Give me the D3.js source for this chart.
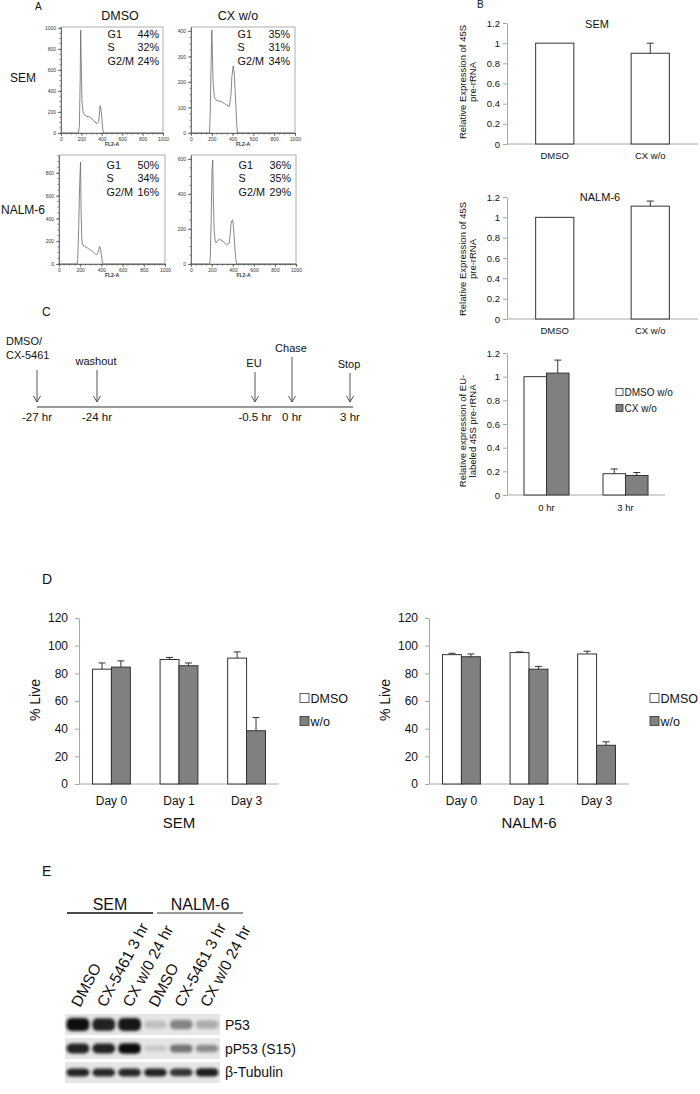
<!DOCTYPE html>
<html>
<head>
<meta charset="utf-8">
<script src="https://cdn.jsdelivr.net/npm/d3@7"></script>
<style>
  body { margin: 0; background: #fff; }
  svg { display: block; font-family: Arial, "Liberation Sans", sans-serif; }
</style>
</head>
<body>
<svg width="700" height="1094"></svg>
<script>
const svg = d3.select('svg');
const FONT = 'Arial, "Liberation Sans", sans-serif';

// ---------- panel A: cell cycle histograms (FL2-A channel, count)
const semDmsoHist = [[0, 0], [170, 0], [180, 60], [188, 500], [193, 980], [198, 700], [205, 320], [217, 190],
  [250, 159], [283, 152], [317, 120], [350, 89], [370, 111], [378, 200], [383, 260], [393, 222], [400, 150],
  [407, 48], [417, 0], [1000, 0]];
const semCxHist = [[0, 0], [178, 0], [185, 80], [192, 250], [200, 404], [205, 330], [212, 200], [225, 140],
  [240, 130], [265, 125], [290, 124], [323, 115], [355, 107], [368, 104], [383, 143], [393, 221], [406, 263],
  [416, 234], [425, 160], [432, 104], [440, 30], [448, 0], [1000, 0]];
const nalmDmsoHist = [[0, 0], [170, 0], [177, 40], [185, 300], [195, 700], [203, 895], [208, 500], [214, 250],
  [220, 169], [269, 140], [318, 110], [351, 81], [367, 96], [377, 130], [384, 154], [392, 130], [400, 81],
  [410, 9], [415, 0], [1000, 0]];
const nalmCxHist = [[0, 0], [178, 0], [184, 40], [192, 250], [200, 540], [207, 594], [212, 400], [220, 200],
  [230, 130], [239, 120], [255, 135], [272, 142], [305, 129], [338, 110], [364, 120], [375, 180], [380, 224],
  [390, 250], [397, 252], [405, 210], [413, 138], [422, 60], [429, 15], [435, 0], [1000, 0]];

const phaseNames = ['G1', 'S', 'G2/M'];
const semDmsoPhases = [44, 32, 24];
const semCxPhases = [35, 31, 34];
const nalmDmsoPhases = [50, 34, 16];
const nalmCxPhases = [36, 35, 29];

// ---------- panel B: 45S pre-rRNA
const rrnaConditions = ['DMSO', 'CX w/o'];
const semRrna = [1.0, 0.90];
const semRrnaErr = [0, 0.10];
const nalmRrna = [1.0, 1.11];
const nalmRrnaErr = [0, 0.05];
const rrnaTicks = [0, 0.2, 0.4, 0.6, 0.8, 1, 1.2];

const euTimepoints = ['0 hr', '3 hr'];
const euSeriesNames = ['DMSO w/o', 'CX w/o'];
const euDmso = [1.0, 0.18];
const euDmsoErr = [0, 0.04];
const euCx = [1.03, 0.165];
const euCxErr = [0.11, 0.025];

// ---------- panel C: timeline
const timelineEvents = [['DMSO/', 'CX-5461'], ['washout'], ['EU'], ['Chase'], ['Stop']];
const timelineHours = [-27, -24, -0.5, 0, 3];
const timelineLabels = ['-27 hr', '-24 hr', '-0.5 hr', '0 hr', '3 hr'];

// ---------- panel D: % live
const days = ['Day 0', 'Day 1', 'Day 3'];
const liveSeriesNames = ['DMSO', 'w/o'];
const semLiveDmso = [83, 90, 91];
const semLiveDmsoErr = [4.5, 1.5, 4.5];
const semLiveWo = [84.5, 85.5, 38.5];
const semLiveWoErr = [4.5, 2, 9.5];
const nalmLiveDmso = [93.5, 95, 94];
const nalmLiveDmsoErr = [1, 0.5, 2];
const nalmLiveWo = [92, 83, 28];
const nalmLiveWoErr = [2, 2, 2.5];
const liveTicks = [0, 20, 40, 60, 80, 100, 120];

// ---------- panel E: western blot
const blotLanes = ['DMSO', 'CX-5461 3 hr', 'CX w/0 24 hr', 'DMSO', 'CX-5461 3 hr', 'CX w/0 24 hr'];
const blotCellLines = ['SEM', 'NALM-6'];
const blotRows = ['P53', 'pP53 (S15)', 'β-Tubulin'];
const p53Signal = [1.0, 0.92, 0.97, 0.12, 0.42, 0.22];
const pp53Signal = [0.9, 0.92, 1.0, 0.08, 0.5, 0.38];
const tubulinSignal = [0.92, 0.88, 0.88, 0.9, 0.82, 0.95];

const GREY_BAR = '#808080';

// small text helper
function add_text(x, y, str, size, anchor = 'start', fill = '#111') {
  return svg.append('text')
    .attr('x', x).attr('y', y)
    .attr('font-size', size)
    .attr('text-anchor', anchor)
    .attr('fill', fill)
    .text(str);
}

// style a d3 axis group
function style_axis(a, size, lineColor, textColor) {
  a.attr('font-family', FONT).attr('font-size', size);
  a.selectAll('line, path').attr('stroke', lineColor);
  a.selectAll('text').attr('fill', textColor);
}

// ---------- panel letters
add_text(35, 10, 'A', 10);
add_text(477, 8, 'B', 10);
add_text(42, 316, 'C', 12);
add_text(42, 584, 'D', 14);
add_text(42, 876, 'E', 14);

// ---------- panel A
add_text(120, 20, 'DMSO', 12.5, 'middle');
add_text(238, 20, 'CX w/o', 12.5, 'middle');
add_text(10, 82, 'SEM', 12);
add_text(1, 214, 'NALM-6', 12);

function draw_histogram(h) {
  const x = d3.scaleLinear().domain([0, 1000]).range([h.left, h.right]);
  const y = d3.scaleLinear().domain([0, h.yLimit]).range([h.bottom, h.top]);
  const g = svg.append('g');

  // frame
  g.append('rect')
    .attr('x', h.left).attr('y', h.top)
    .attr('width', h.right - h.left).attr('height', h.bottom - h.top)
    .attr('fill', 'none').attr('stroke', '#9a9a9a').attr('stroke-width', 0.8);

  // minor ticks
  g.selectAll('.xminor').data(d3.range(0, 1001, 50)).join('line')
    .attr('x1', d => x(d)).attr('x2', d => x(d))
    .attr('y1', h.bottom).attr('y2', h.bottom + 1.6)
    .attr('stroke', '#444').attr('stroke-width', 0.6);
  g.selectAll('.yminor').data(d3.range(0, h.yLimit, h.yStep / 4)).join('line')
    .attr('x1', h.left).attr('x2', h.left - 1.6)
    .attr('y1', d => y(d)).attr('y2', d => y(d))
    .attr('stroke', '#444').attr('stroke-width', 0.6);

  const xAxis = g.append('g')
    .attr('transform', `translate(0,${h.bottom})`)
    .call(d3.axisBottom(x).tickValues(d3.range(0, 1001, 200)).tickSize(3).tickSizeOuter(0)
      .tickPadding(1).tickFormat(d3.format('d')));
  const yAxis = g.append('g')
    .attr('transform', `translate(${h.left},0)`)
    .call(d3.axisLeft(y).tickValues(d3.range(0, h.yLimit, h.yStep)).tickSize(3).tickSizeOuter(0)
      .tickPadding(2).tickFormat(d3.format('d')));
  style_axis(xAxis, 5, '#444', '#333');
  style_axis(yAxis, 5, '#444', '#333');
  xAxis.selectAll('line, path').attr('stroke-width', 0.7);
  yAxis.selectAll('line, path').attr('stroke-width', 0.7);

  add_text((h.left + h.right) / 2, h.bottom + 13, 'FL2-A', 5, 'middle', '#333')
    .attr('font-weight', 'bold');

  // histogram trace
  g.append('path')
    .datum(h.data)
    .attr('d', d3.line().x(d => x(d[0])).y(d => y(d[1])))
    .attr('fill', 'none')
    .attr('stroke', '#6a6a6a')
    .attr('stroke-width', 0.8);

  // phase percentages
  phaseNames.forEach((p, i) => {
    add_text(h.textLeft, h.textTop + i * 13.3, p, 10.8);
    add_text(h.textRight, h.textTop + i * 13.3, h.phases[i] + '%', 10.8, 'end');
  });
}

draw_histogram({ data: semDmsoHist, phases: semDmsoPhases, left: 61, right: 163, top: 27, bottom: 133,
  yLimit: 1010, yStep: 200, textLeft: 107.5, textRight: 159, textTop: 38 });
draw_histogram({ data: semCxHist, phases: semCxPhases, left: 191, right: 295, top: 27, bottom: 133,
  yLimit: 416, yStep: 100, textLeft: 237.5, textRight: 290, textTop: 38 });
draw_histogram({ data: nalmDmsoHist, phases: nalmDmsoPhases, left: 59, right: 165, top: 155, bottom: 264,
  yLimit: 958, yStep: 200, textLeft: 106.5, textRight: 159, textTop: 169 });
draw_histogram({ data: nalmCxHist, phases: nalmCxPhases, left: 191, right: 296, top: 155, bottom: 264,
  yLimit: 623, yStep: 200, textLeft: 238.5, textRight: 291, textTop: 169 });

// ---------- generic excel-like bar chart (panels B and D)
function draw_bar_chart(c) {
  const x = d3.scaleBand().domain(c.categories).range([c.left, c.right])
    .paddingInner(c.padInner).paddingOuter(c.padOuter);
  const xs = d3.scaleBand().domain(c.series.map(s => s.name)).range([0, x.bandwidth()]);
  const y = d3.scaleLinear().domain([0, c.yMax]).range([c.bottom, c.top]);
  const g = svg.append('g');

  const yAxis = g.append('g')
    .attr('transform', `translate(${c.left},0)`)
    .call(d3.axisLeft(y).tickValues(c.ticks).tickSize(c.tickSize).tickSizeOuter(0)
      .tickPadding(c.tickPad).tickFormat(d3.format('~g')));
  style_axis(yAxis, c.tickFont, '#a8a8a8', '#111');

  // x axis baseline
  g.append('line')
    .attr('x1', c.left).attr('x2', c.right)
    .attr('y1', c.bottom).attr('y2', c.bottom)
    .attr('stroke', '#a8a8a8');

  c.series.forEach(s => {
    const sg = g.append('g');
    sg.selectAll('rect')
      .data(c.categories)
      .join('rect')
      .attr('x', (d, i) => x(d) + xs(s.name))
      .attr('y', (d, i) => y(s.values[i]))
      .attr('width', xs.bandwidth())
      .attr('height', (d, i) => c.bottom - y(s.values[i]))
      .attr('fill', s.fill)
      .attr('stroke', '#333')
      .attr('stroke-width', 1);

    // positive error bars
    const errs = c.categories.map((d, i) => ({ cat: d, v: s.values[i], e: s.errors[i] })).filter(d => d.e > 0);
    const cx = d => x(d.cat) + xs(s.name) + xs.bandwidth() / 2;
    sg.selectAll('.err')
      .data(errs)
      .join('line')
      .attr('x1', cx).attr('x2', cx)
      .attr('y1', d => y(d.v)).attr('y2', d => y(d.v + d.e))
      .attr('stroke', '#333');
    sg.selectAll('.cap')
      .data(errs)
      .join('line')
      .attr('x1', d => cx(d) - c.cap).attr('x2', d => cx(d) + c.cap)
      .attr('y1', d => y(d.v + d.e)).attr('y2', d => y(d.v + d.e))
      .attr('stroke', '#333');
  });

  // category labels
  c.categories.forEach(d => {
    add_text(x(d) + x.bandwidth() / 2, c.labelY, d, c.labelFont, 'middle');
  });

  if (c.title) add_text(c.title.x, c.title.y, c.title.text, c.title.size, 'middle');
  if (c.subtitle) add_text((c.left + c.right) / 2, c.subtitle.y, c.subtitle.text, c.subtitle.size, 'middle');

  // rotated y label (one or more lines)
  c.yLabel.lines.forEach((line, i) => {
    svg.append('text')
      .attr('transform', `translate(${c.yLabel.x + i * c.yLabel.gap},${c.yLabel.y}) rotate(-90)`)
      .attr('text-anchor', 'middle')
      .attr('font-size', c.yLabel.size)
      .attr('fill', '#111')
      .text(line);
  });

  if (c.legend) {
    c.series.forEach((s, i) => {
      const ly = c.legend.y + i * c.legend.gap;
      g.append('rect')
        .attr('x', c.legend.x).attr('y', ly - c.legend.box / 2)
        .attr('width', c.legend.box).attr('height', c.legend.box)
        .attr('fill', s.fill).attr('stroke', '#333').attr('stroke-width', 0.8);
      add_text(c.legend.x + c.legend.box + c.legend.pad, ly + c.legend.size * 0.36, s.label, c.legend.size);
    });
  }
}

// ---------- panel B
const rrnaYLabel = ['Relative Expression of 45S', 'pre-rRNA'];
draw_bar_chart({
  categories: rrnaConditions,
  series: [{ name: 'v', values: semRrna, errors: semRrnaErr, fill: '#fff' }],
  left: 507, right: 698, top: 23, bottom: 144, yMax: 1.2, ticks: rrnaTicks,
  padInner: 0.6, padOuter: 0.3, tickSize: 4, tickPad: 3, tickFont: 9.5, cap: 3.5,
  labelY: 159, labelFont: 9.5,
  title: { text: 'SEM', x: 597, y: 28, size: 11 },
  yLabel: { lines: rrnaYLabel, x: 466, gap: 10, y: 82, size: 9.5 }
});
draw_bar_chart({
  categories: rrnaConditions,
  series: [{ name: 'v', values: nalmRrna, errors: nalmRrnaErr, fill: '#fff' }],
  left: 507, right: 698, top: 197, bottom: 319, yMax: 1.2, ticks: rrnaTicks,
  padInner: 0.6, padOuter: 0.3, tickSize: 4, tickPad: 3, tickFont: 9.5, cap: 3.5,
  labelY: 334, labelFont: 9.5,
  title: { text: 'NALM-6', x: 600, y: 201, size: 11 },
  yLabel: { lines: rrnaYLabel, x: 466, gap: 10, y: 259, size: 9.5 }
});
draw_bar_chart({
  categories: euTimepoints,
  series: [
    { name: 'dmso', label: euSeriesNames[0], values: euDmso, errors: euDmsoErr, fill: '#fff' },
    { name: 'cx', label: euSeriesNames[1], values: euCx, errors: euCxErr, fill: GREY_BAR }
  ],
  left: 507, right: 665, top: 353, bottom: 495, yMax: 1.2, ticks: rrnaTicks,
  padInner: 0.43, padOuter: 0.215, tickSize: 4, tickPad: 3, tickFont: 9.5, cap: 3.5,
  labelY: 511, labelFont: 9.5,
  yLabel: { lines: ['Relative expression of EU-', 'labeled 45S pre-rRNA'], x: 466, gap: 10, y: 431, size: 9.5 },
  legend: { x: 616, y: 392, gap: 16, box: 7, pad: 1.5, size: 10 }
});

// ---------- panel C: experiment timeline
function draw_timeline() {
  // schematic, not to scale
  const t = d3.scaleLinear().domain(timelineHours).range([37, 97, 255, 292, 350]);
  const arrowTop = [370, 370, 372, 357, 373];
  const lineY = 407;
  const g = svg.append('g');

  g.append('line')
    .attr('x1', t(timelineHours[0])).attr('x2', t(timelineHours[timelineHours.length - 1]) + 3)
    .attr('y1', lineY).attr('y2', lineY)
    .attr('stroke', '#777').attr('stroke-width', 1.5);

  timelineHours.forEach((h, i) => {
    const ax = t(h);
    g.append('line')
      .attr('x1', ax).attr('x2', ax).attr('y1', arrowTop[i]).attr('y2', lineY - 5)
      .attr('stroke', '#555').attr('stroke-width', 1);
    g.append('path')
      .attr('d', `M${ax - 3.5},${lineY - 11}L${ax},${lineY - 5}L${ax + 3.5},${lineY - 11}`)
      .attr('fill', 'none').attr('stroke', '#555').attr('stroke-width', 1);

    const lines = timelineEvents[i];
    if (lines.length > 1) {
      lines.forEach((l, j) => add_text(ax - 31, arrowTop[i] - 11 - (lines.length - 1 - j) * 14, l, 11));
    } else {
      add_text(ax - 1, arrowTop[i] - 5, lines[0], 11, 'middle');
    }
    add_text(ax, lineY + 14, timelineLabels[i], 11.5, 'middle');
  });
}
draw_timeline();

// ---------- panel D
[
  { sub: 'SEM', dmso: semLiveDmso, dmsoErr: semLiveDmsoErr, wo: semLiveWo, woErr: semLiveWoErr, dx: 0 },
  { sub: 'NALM-6', dmso: nalmLiveDmso, dmsoErr: nalmLiveDmsoErr, wo: nalmLiveWo, woErr: nalmLiveWoErr, dx: 350 }
].forEach(p => {
  draw_bar_chart({
    categories: days,
    series: [
      { name: 'dmso', label: liveSeriesNames[0], values: p.dmso, errors: p.dmsoErr, fill: '#fff' },
      { name: 'wo', label: liveSeriesNames[1], values: p.wo, errors: p.woErr, fill: GREY_BAR }
    ],
    left: 79 + p.dx, right: 279 + p.dx, top: 618, bottom: 784, yMax: 120, ticks: liveTicks,
    padInner: 0.44, padOuter: 0.2, tickSize: 4, tickPad: 7, tickFont: 12, cap: 3.5,
    labelY: 805, labelFont: 12,
    subtitle: { text: p.sub, y: 828, size: 15 },
    yLabel: { lines: ['% Live'], x: 40 + p.dx, gap: 0, y: 700, size: 14 },
    legend: { x: 300 + p.dx, y: 698, gap: 23, box: 9, pad: 1.5, size: 12.5 }
  });
});

// ---------- panel E: western blot
function draw_blot() {
  const lanes = d3.scaleBand().domain(d3.range(blotLanes.length)).range([65, 220]);
  const rows = d3.scaleBand().domain(blotRows).range([1014, 1083]).paddingInner(0.12);
  const signals = [p53Signal, pp53Signal, tubulinSignal];
  const bandThick = [0.62, 0.5, 0.4];
  const shade = d3.interpolateRgb('#d8d8d8', '#101010');

  const defs = svg.append('defs');
  defs.append('filter').attr('id', 'blur')
    .attr('x', '-20%').attr('y', '-60%').attr('width', '140%').attr('height', '220%')
    .append('feGaussianBlur').attr('stdDeviation', 1.5);

  // cell line headers
  const headerSpans = [[67, 153, '#111'], [157, 243, '#777']];
  blotCellLines.forEach((name, i) => {
    const [x1, x2, col] = headerSpans[i];
    add_text((x1 + x2) / 2, 910, name, 16, 'middle');
    svg.append('line').attr('x1', x1).attr('x2', x2).attr('y1', 913).attr('y2', 913)
      .attr('stroke', col).attr('stroke-width', 1.3);
  });

  // lane labels
  blotLanes.forEach((lab, i) => {
    svg.append('text')
      .attr('transform', `translate(${lanes(i) + lanes.bandwidth() / 2 + 2},1008) rotate(-62)`)
      .attr('font-size', 15.5)
      .attr('fill', '#111')
      .text(lab);
  });

  blotRows.forEach((row, r) => {
    const ry = rows(row);
    const bh = rows.bandwidth();
    svg.append('rect')
      .attr('x', lanes.range()[0]).attr('y', ry)
      .attr('width', lanes.range()[1] - lanes.range()[0]).attr('height', bh)
      .attr('fill', '#e6e6e6');

    svg.append('g').attr('filter', 'url(#blur)')
      .selectAll('rect')
      .data(signals[r])
      .join('rect')
      .attr('x', (d, i) => lanes(i) + 1.5)
      .attr('width', lanes.bandwidth() - 3)
      .attr('y', d => ry + bh / 2 - bh * bandThick[r] * (0.55 + 0.45 * d) / 2)
      .attr('height', d => bh * bandThick[r] * (0.55 + 0.45 * d))
      .attr('rx', 5)
      .attr('fill', d => shade(d));

    add_text(225, ry + bh / 2 + 5, row, 14);
  });
}
draw_blot();
</script>
</body>
</html>
